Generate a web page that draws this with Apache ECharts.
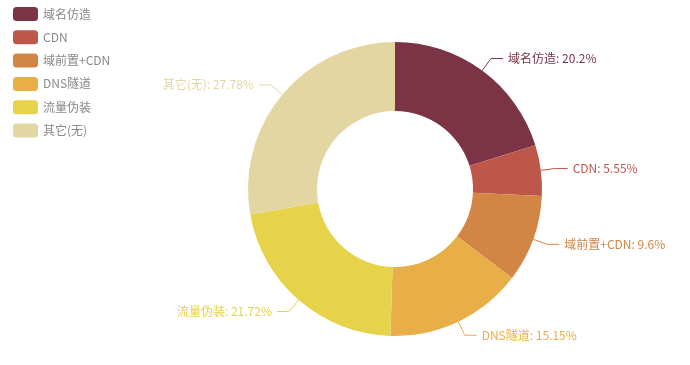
<!DOCTYPE html>
<html>
<head>
<meta charset="utf-8">
<script src="https://cdn.jsdelivr.net/npm/echarts@6/dist/echarts.min.js"></script>
<style>html,body{margin:0;padding:0;background:#fff}#c{width:690px;height:365px}</style>
</head>
<body>
<div id="c"></div>
<script>
var categories = ['域名仿造', 'CDN', '域前置+CDN', 'DNS隧道', '流量伪装', '其它(无)'];
var values = [20.2, 5.55, 9.6, 15.15, 21.72, 27.78];
var colors = ['#7b3446', '#bd574a', '#d28544', '#e8ae48', '#e6d349', '#e3d6a2'];

var chart = echarts.init(document.getElementById('c'));
chart.setOption({
  animation: false,
  color: colors,
  legend: {
    orient: 'vertical',
    left: 8,
    top: 2,
    itemWidth: 25,
    itemHeight: 14,
    itemGap: 9.3,
    data: categories,
    textStyle: { color: '#888', fontSize: 12, fontFamily: 'Noto Sans CJK SC' }
  },
  series: [{
    type: 'pie',
    center: [395, 189],
    radius: [78, 147],
    startAngle: 90,
    data: categories.map(function (n, i) { return { name: n, value: values[i] }; }),
    label: {
      formatter: '{b}: {d}%',
      color: 'inherit',
      fontSize: 12,
      fontFamily: 'Noto Sans CJK SC'
    },
    labelLine: { length: 15, length2: 12 }
  }]
});
</script>
</body>
</html>
